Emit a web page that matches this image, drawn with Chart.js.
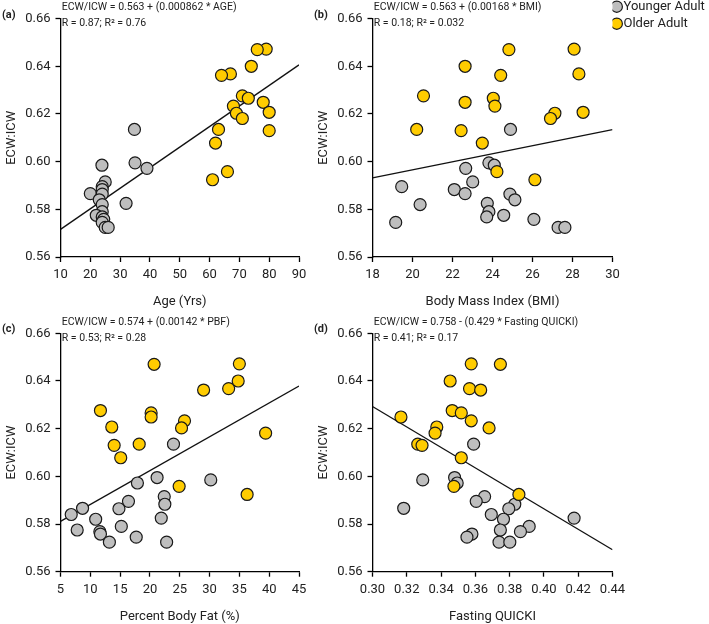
<!DOCTYPE html>
<html>
<head>
<meta charset="utf-8">
<title>ECW:ICW vs age, BMI, body fat and QUICKI</title>
<script src="https://cdn.jsdelivr.net/npm/chart.js@4.4.1/dist/chart.umd.min.js"></script>
<style>
  html, body { margin: 0; padding: 0; background: #fff; }
  #wrap { position: relative; width: 709px; height: 624px; overflow: hidden; }
  #wrap canvas { position: absolute; left: 0; top: 0; }
</style>
</head>
<body>
<div id="wrap">
  <canvas id="panel-a" width="709" height="624"></canvas>
  <canvas id="panel-b" width="709" height="624"></canvas>
  <canvas id="panel-c" width="709" height="624"></canvas>
  <canvas id="panel-d" width="709" height="624"></canvas>
</div>
<script>
// ============================================
// ECW:ICW PANELS
// 4 scatter plots (a-d), younger vs older adults,
// each with its regression line
// ============================================

(function() {
  'use strict';

  // ECW:ICW per subject - same subject order in every panel
  const RATIO_YOUNG = [0.6135, 0.5995, 0.5985, 0.5972, 0.5915, 0.5895, 0.5883, 0.5866, 0.5864, 0.5840,
                       0.5825, 0.5820, 0.5790, 0.5775, 0.5768, 0.5758, 0.5745, 0.5724, 0.5724];
  const RATIO_OLD = [0.6472, 0.6470, 0.6400, 0.6368, 0.6362, 0.6276, 0.6266, 0.6249, 0.6233, 0.6207,
                     0.6203, 0.6181, 0.6135, 0.6130, 0.6078, 0.5958, 0.5924];

  const AGE_YOUNG = [34.8, 35.0, 23.9, 39.0, 25.0, 24.0, 24.0, 20.0, 24.0, 23.0,
                     32.0, 24.0, 24.0, 22.0, 24.0, 24.5, 24.0, 25.0, 26.0];
  const AGE_OLD = [79, 76, 74, 67, 64, 71, 73, 78, 68, 80, 69, 71, 63, 80, 62, 66, 61];

  const BMI_YOUNG = [24.9, 23.82, 24.09, 22.66, 23.01, 19.46, 22.09, 22.63, 24.87, 25.12,
                     23.74, 20.38, 23.82, 24.56, 23.71, 26.07, 19.16, 27.28, 27.62];
  const BMI_OLD = [28.08, 24.82, 22.63, 28.32, 24.41, 20.55, 24.04, 22.63, 24.12, 28.53,
                   27.12, 26.90, 20.21, 22.43, 23.49, 24.22, 26.12];

  const PBF_YOUNG = [23.95, 21.2, 30.2, 17.9, 22.4, 16.4, 22.5, 8.7, 14.8, 6.8,
                     21.9, 10.9, 15.2, 7.8, 11.6, 11.7, 17.7, 13.2, 22.8];
  const PBF_OLD = [35.0, 20.7, 34.8, 33.2, 29.0, 11.7, 20.2, 20.2, 25.8, 13.6,
                   25.3, 39.4, 18.2, 14.0, 15.1, 24.9, 36.3];

  const QUICKI_YOUNG = [0.359, 0.3479, 0.3293, 0.3494, 0.3654, 0.3605, 0.383, 0.3182, 0.3795, 0.3693,
                        0.4176, 0.3764, 0.3914, 0.3746, 0.3863, 0.358, 0.3551, 0.3738, 0.3801];
  const QUICKI_OLD = [0.3576, 0.3746, 0.3453, 0.3566, 0.3631, 0.3465, 0.3518, 0.3166, 0.3576, 0.3375,
                      0.368, 0.3365, 0.3264, 0.3289, 0.3518, 0.3475, 0.3854];

  // regression line end points [x, y]
  const FIT_AGE = [[10, 0.5716], [90, 0.6406]];
  const FIT_BMI = [[18, 0.5932], [30, 0.6134]];
  const FIT_PBF = [[5, 0.5811], [45, 0.6379]];
  const FIT_QUICKI = [[0.30, 0.6293], [0.44, 0.5692]];

  // tick labels
  const RATIO_TICKS = [0.56, 0.58, 0.60, 0.62, 0.64, 0.66];
  const AGE_TICKS = [10, 20, 30, 40, 50, 60, 70, 80, 90];
  const BMI_TICKS = [18, 20, 22, 24, 26, 28, 30];
  const PBF_TICKS = [5, 10, 15, 20, 25, 30, 35, 40, 45];
  const QUICKI_TICKS = [0.30, 0.32, 0.34, 0.36, 0.38, 0.40, 0.42, 0.44];

  const GREY = '#BEBEBE';
  const GOLD = '#FFCC00';
  const EDGE = '#1a1a1a';
  const TEXT = '#222222';
  const AXIS_W = 57;      // y axis box width
  const AXIS_H = 52.5;    // x axis box height

  Chart.defaults.font.family = "Roboto, 'Noto Sans', sans-serif";
  Chart.defaults.font.size = 13;
  Chart.defaults.color = TEXT;

  // panel tag + equation text above each plot
  const annotate = {
    id: 'annotate',
    afterDraw(chart, args, opts) {
      const ctx = chart.ctx;
      const area = chart.chartArea;
      ctx.save();
      ctx.fillStyle = TEXT;
      ctx.textBaseline = 'middle';
      ctx.textAlign = 'left';
      ctx.font = "bold 11px Roboto, sans-serif";
      ctx.fillText(opts.tag, area.left - 58.5, area.top - 3.6);
      ctx.font = "10.5px Roboto, sans-serif";
      ctx.fillText(opts.lines[0], area.left + 1.2, area.top - 11);
      ctx.fillText(opts.lines[1], area.left + 1.2, area.top + 4.8);
      ctx.restore();
    }
  };

  function toPoints(xs, ys) {
    return xs.map((x, i) => ({ x: x, y: ys[i] }));
  }

  function axisStyle() {
    return {
      grid: { display: true, drawOnChartArea: false, drawTicks: true, tickLength: 5,
              tickColor: '#000', tickWidth: 1.3, color: '#000' },
      border: { display: true, color: '#000', width: 1.3 }
    };
  }

  function makePanel(id, p) {
    const box = p.box;
    const legendOn = !!p.legend;
    const xTicks = p.xTicks;

    const datasets = [
      {
        label: 'Younger Adult',
        data: toPoints(p.xYoung, RATIO_YOUNG),
        backgroundColor: GREY, borderColor: EDGE,
        pointBackgroundColor: GREY, pointBorderColor: EDGE,
        pointRadius: 6, pointBorderWidth: 1.2, pointHoverRadius: 6,
        order: 2
      },
      {
        label: 'Older Adult',
        data: toPoints(p.xOld, RATIO_OLD),
        backgroundColor: GOLD, borderColor: EDGE,
        pointBackgroundColor: GOLD, pointBorderColor: EDGE,
        pointRadius: 6, pointBorderWidth: 1.2, pointHoverRadius: 6,
        order: 1
      },
      {
        label: 'fit',
        data: p.fit.map(pt => ({ x: pt[0], y: pt[1] })),
        showLine: true, pointRadius: 0, pointHoverRadius: 0,
        borderColor: '#111', borderWidth: 1.3, fill: false,
        order: 3
      }
    ];

    const xAxis = Object.assign(axisStyle(), {
      type: 'linear',
      min: xTicks[0],
      max: xTicks[xTicks.length - 1],
      afterBuildTicks: s => { s.ticks = xTicks.map(v => ({ value: v })); },
      afterFit: s => { s.height = AXIS_H; },
      ticks: { padding: 5, color: TEXT, autoSkip: false, maxRotation: 0,
               callback: v => p.xDigits ? v.toFixed(p.xDigits) : String(v) },
      title: { display: true, text: p.xTitle, color: TEXT, padding: 0 }
    });

    const yAxis = Object.assign(axisStyle(), {
      type: 'linear',
      min: RATIO_TICKS[0],
      max: RATIO_TICKS[RATIO_TICKS.length - 1],
      afterBuildTicks: s => { s.ticks = RATIO_TICKS.map(v => ({ value: v })); },
      afterFit: s => {
        s.width = AXIS_W;
        // keep plot top fixed when the legend sits above it
        if (legendOn) s.paddingTop = box.top;
      },
      ticks: { padding: 5, color: TEXT, callback: v => v.toFixed(2) },
      title: { display: true, text: 'ECW:ICW', color: TEXT, padding: 0 }
    });

    return new Chart(document.getElementById(id), {
      type: 'scatter',
      data: { datasets: datasets },
      options: {
        responsive: false,
        animation: false,
        layout: {
          padding: {
            left: box.left - AXIS_W,
            top: legendOn ? -3.8 : box.top,
            right: legendOn ? 0 : 709 - box.right,
            bottom: 624 - box.bottom - AXIS_H
          }
        },
        scales: { x: xAxis, y: yAxis },
        plugins: {
          tooltip: { enabled: false },
          legend: {
            display: legendOn,
            position: 'right',
            align: 'start',
            maxWidth: 709 - box.right,
            labels: {
              usePointStyle: true,
              boxWidth: 0.5,
              boxHeight: 8,
              padding: 4,
              color: TEXT,
              font: { size: 13 },
              filter: item => item.datasetIndex < 2,
              sort: (a, b) => a.datasetIndex - b.datasetIndex
            }
          },
          annotate: { tag: p.tag, lines: p.lines }
        }
      },
      plugins: [annotate]
    });
  }

  makePanel('panel-a', {
    tag: '(a)',
    lines: ['ECW/ICW = 0.563 + (0.000862 * AGE)', 'R = 0.87; R\u00B2 = 0.76'],
    box: { left: 60.5, top: 18.6, right: 299, bottom: 257 },
    xYoung: AGE_YOUNG, xOld: AGE_OLD, fit: FIT_AGE,
    xTicks: AGE_TICKS, xTitle: 'Age (Yrs)'
  });

  makePanel('panel-b', {
    tag: '(b)',
    lines: ['ECW/ICW = 0.563 + (0.00168 * BMI)', 'R = 0.18; R\u00B2 = 0.032'],
    box: { left: 372.5, top: 18.6, right: 612.5, bottom: 257 },
    xYoung: BMI_YOUNG, xOld: BMI_OLD, fit: FIT_BMI,
    xTicks: BMI_TICKS, xTitle: 'Body Mass Index (BMI)',
    legend: true
  });

  makePanel('panel-c', {
    tag: '(c)',
    lines: ['ECW/ICW = 0.574 + (0.00142 * PBF)', 'R = 0.53; R\u00B2 = 0.28'],
    box: { left: 60.5, top: 333.3, right: 299, bottom: 571.7 },
    xYoung: PBF_YOUNG, xOld: PBF_OLD, fit: FIT_PBF,
    xTicks: PBF_TICKS, xTitle: 'Percent Body Fat (%)'
  });

  makePanel('panel-d', {
    tag: '(d)',
    lines: ['ECW/ICW = 0.758 - (0.429 * Fasting QUICKI)', 'R = 0.41; R\u00B2 = 0.17'],
    box: { left: 372.5, top: 333.3, right: 612.5, bottom: 571.7 },
    xYoung: QUICKI_YOUNG, xOld: QUICKI_OLD, fit: FIT_QUICKI,
    xTicks: QUICKI_TICKS, xTitle: 'Fasting QUICKI', xDigits: 2
  });

})();
</script>
</body>
</html>
